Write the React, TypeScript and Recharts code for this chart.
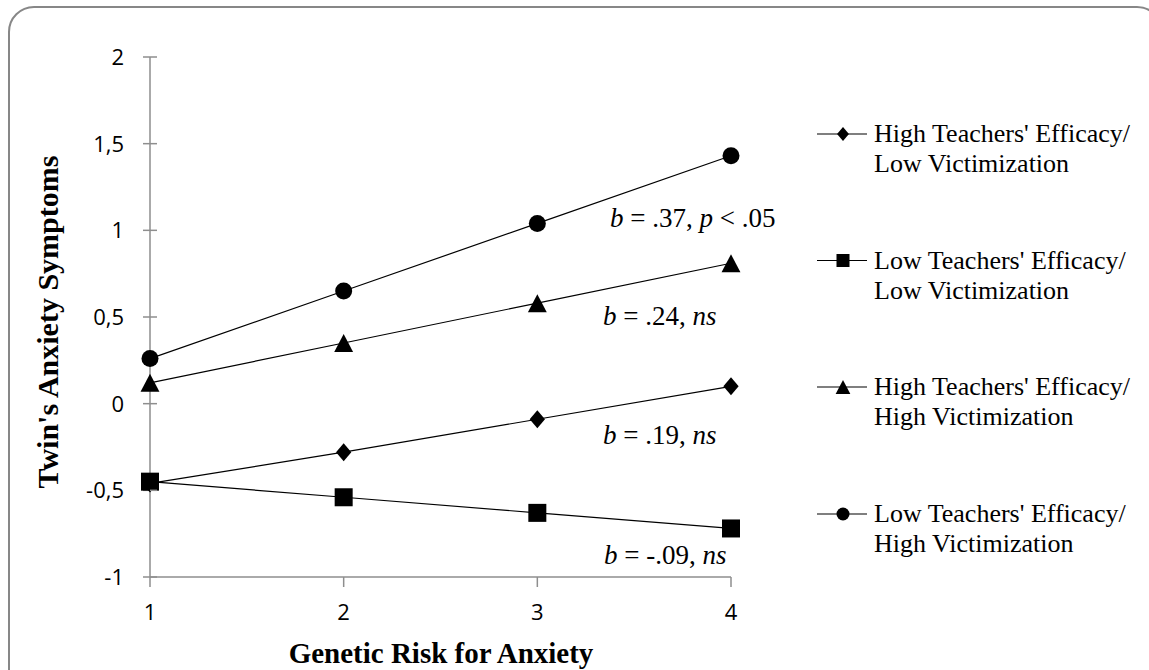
import React from 'react';
import { LineChart, Line, XAxis, YAxis } from 'recharts';

// ---- data ----
const xValues = [1, 2, 3, 4];
const highTeachLowVict = [-0.46, -0.28, -0.09, 0.1];
const lowTeachLowVict = [-0.45, -0.54, -0.63, -0.72];
const highTeachHighVict = [0.12, 0.35, 0.58, 0.81];
const lowTeachHighVict = [0.26, 0.65, 1.04, 1.43];
const yTicks = [-1, -0.5, 0, 0.5, 1, 1.5, 2];
const xTicks = [1, 2, 3, 4];
const seriesKeys = ['hl', 'll', 'hh', 'lh'];
const seriesNames = [
  ["High Teachers' Efficacy/", 'Low Victimization'],
  ["Low Teachers' Efficacy/", 'Low Victimization'],
  ["High Teachers' Efficacy/", 'High Victimization'],
  ["Low Teachers' Efficacy/", 'High Victimization'],
];
const seriesShapes = ['diamond', 'square', 'triangle', 'circle'];
const slopeTexts = [
  [{ t: 'b', i: true }, { t: ' = .37, ', i: false }, { t: 'p', i: true }, { t: ' < .05', i: false }],
  [{ t: 'b', i: true }, { t: ' = .24, ', i: false }, { t: 'ns', i: true }],
  [{ t: 'b', i: true }, { t: ' = .19, ', i: false }, { t: 'ns', i: true }],
  [{ t: 'b', i: true }, { t: ' = -.09, ', i: false }, { t: 'ns', i: true }],
];
const xTitle = 'Genetic Risk for Anxiety';
const yTitle = "Twin's Anxiety Symptoms";

const data = xValues.map((x, i) => ({
  x,
  hl: highTeachLowVict[i],
  ll: lowTeachLowVict[i],
  hh: highTeachHighVict[i],
  lh: lowTeachHighVict[i],
}));

// ---- styles ----
const AXIS = '#8e8e8e';
const SERIF = '"Times New Roman", "Liberation Serif", serif';
const SANS = '"Open Sans", "Noto Sans", sans-serif';
const W = 1149;
const H = 670;
const TICK_FS = 22;

const fmt = (v: number) => String(v).replace('.', ',');

function Marker({ shape, cx, cy, s }: { shape: string; cx: number; cy: number; s: number }) {
  if (shape === 'diamond') {
    const w = s * 0.85;
    const h = s;
    return (
      <polygon
        points={`${cx},${cy - h / 2} ${cx + w / 2},${cy} ${cx},${cy + h / 2} ${cx - w / 2},${cy}`}
        fill="#000"
      />
    );
  }
  if (shape === 'square') {
    return <rect x={cx - s / 2} y={cy - s / 2} width={s} height={s} fill="#000" />;
  }
  if (shape === 'triangle') {
    const w = s * 1.05;
    const h = s;
    return (
      <polygon
        points={`${cx},${cy - h / 2} ${cx + w / 2},${cy + h / 2} ${cx - w / 2},${cy + h / 2}`}
        fill="#000"
      />
    );
  }
  return <circle cx={cx} cy={cy} r={s / 2} fill="#000" />;
}

const makeDot = (shape: string, s: number) => (props: any) => {
  const { cx, cy, index } = props;
  if (cx == null || cy == null) return <g key={`e${index}`} />;
  return (
    <g key={`${shape}-${index}`}>
      <Marker shape={shape} cx={cx} cy={cy} s={s} />
    </g>
  );
};

const YTick = (props: any) => {
  const { x, y, payload } = props;
  const axisX = x + 26;
  return (
    <g>
      <line x1={axisX} x2={axisX + 7} y1={y} y2={y} stroke={AXIS} strokeWidth={1.5} />
      <text x={x} y={y} dy="0.36em" textAnchor="end" fontFamily={SANS} fontSize={TICK_FS} fill="#000">
        {fmt(payload.value)}
      </text>
    </g>
  );
};

const markerSizes = [18, 18, 18, 17];
const legendSizes = [14, 13, 14, 13];
const legendBaselines = [142, 268.5, 395, 522];
const slopePos = [
  { x: 610, y: 227 },
  { x: 603, y: 325 },
  { x: 603, y: 444 },
  { x: 604, y: 564 },
];

export default function App() {
  return (
    <div style={{ position: 'absolute', left: 0, top: 0, width: W, height: H, background: '#fff', overflow: 'hidden' }}>
      <LineChart
        width={W}
        height={H}
        data={data}
        margin={{ top: 57, right: 418, bottom: 33, left: 50 }}
      >
        <XAxis
          dataKey="x"
          type="number"
          domain={[1, 4]}
          ticks={xTicks}
          height={60}
          axisLine={{ stroke: AXIS, strokeWidth: 1.5 }}
          tickLine={{ stroke: AXIS, strokeWidth: 1.5 }}
          tickSize={10}
          tickMargin={17}
          tick={{ fill: '#000', fontSize: TICK_FS, fontFamily: SANS }}
          interval={0}
        />
        <YAxis
          type="number"
          domain={[-1, 2]}
          ticks={yTicks}
          width={100}
          axisLine={{ stroke: AXIS, strokeWidth: 1.5 }}
          tickLine={{ stroke: AXIS, strokeWidth: 1.5 }}
          tickSize={7}
          tickMargin={19}
          tick={<YTick />}
          interval={0}
        />
        {seriesKeys.map((k, i) => (
          <Line
            key={k}
            dataKey={k}
            name={seriesNames[i].join(' ')}
            stroke="#000"
            strokeWidth={1.2}
            dot={makeDot(seriesShapes[i], markerSizes[i])}
            activeDot={false}
            isAnimationActive={false}
          />
        ))}
      </LineChart>
      <svg
        width={W}
        height={H}
        style={{ position: 'absolute', left: 0, top: 0, pointerEvents: 'none' }}
      >
        <rect x={9} y={7} width={1153} height={700} rx={25} ry={25} fill="none" stroke="#878787" strokeWidth={2} />
        {slopeTexts.map((segs, i) => (
          <text key={i} x={slopePos[i].x} y={slopePos[i].y} fontFamily={SERIF} fontSize={27} fill="#000">
            {segs.map((s, j) => (
              <tspan key={j} fontStyle={s.i ? 'italic' : 'normal'}>
                {s.t}
              </tspan>
            ))}
          </text>
        ))}
        {seriesNames.map((lines, i) => {
          const by = legendBaselines[i];
          const my = by - 8;
          return (
            <g key={i}>
              <line x1={817} x2={867} y1={my} y2={my} stroke="#000" strokeWidth={1.2} />
              <Marker shape={seriesShapes[i]} cx={843} cy={my} s={legendSizes[i]} />
              <text x={874} y={by} fontFamily={SERIF} fontSize={26} fill="#000">
                {lines[0]}
              </text>
              <text x={874} y={by + 30} fontFamily={SERIF} fontSize={26} fill="#000">
                {lines[1]}
              </text>
            </g>
          );
        })}
        <text x={441} y={663} textAnchor="middle" fontFamily={SERIF} fontWeight="bold" fontSize={29} fill="#000">
          {xTitle}
        </text>
        <text
          x={0}
          y={0}
          transform={`translate(58, 322) rotate(-90)`}
          textAnchor="middle"
          fontFamily={SERIF}
          fontWeight="bold"
          fontSize={30}
          fill="#000"
        >
          {yTitle}
        </text>
      </svg>
    </div>
  );
}
